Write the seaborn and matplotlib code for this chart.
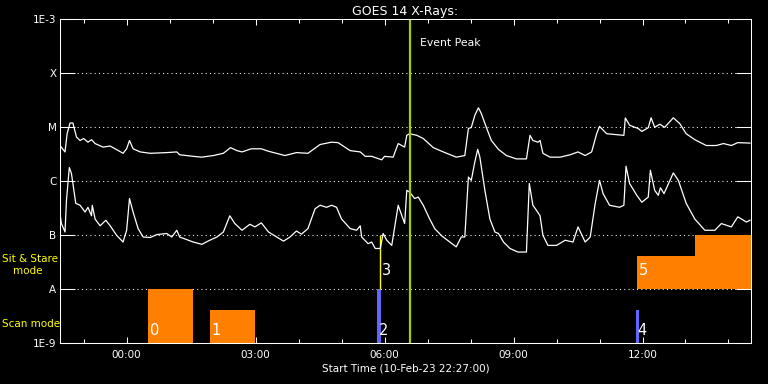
import pandas as pd
import matplotlib
matplotlib.use("Agg")
import matplotlib.pyplot as plt
import matplotlib.dates as mdates
import matplotlib.ticker as ticker
import matplotlib.transforms as mtransforms
import seaborn as sns

# --- GOES 14 long channel (upper curve), W/m^2 ---
long_times = ["22:27", "22:34", "22:37", "22:41", "22:45", "22:50", "22:55", "23:00", "23:06", "23:11",
              "23:16", "23:27", "23:37", "23:44", "23:55", "00:00", "00:04", "00:09", "00:19", "00:33",
              "00:56", "01:10", "01:14", "01:33", "01:45", "02:01", "02:15", "02:25", "02:34", "02:41",
              "02:54", "03:08", "03:18", "03:41", "03:57", "04:13", "04:30", "04:46", "04:55", "05:12",
              "05:26", "05:33", "05:42", "05:56", "06:00", "06:12", "06:19", "06:28", "06:31", "06:35",
              "06:45", "06:54", "07:08", "07:22", "07:40", "07:52", "07:57", "08:01", "08:06", "08:11",
              "08:15", "08:22", "08:29", "08:39", "08:50", "09:04", "09:18", "09:23", "09:27", "09:34",
              "09:37", "09:41", "09:51", "10:05", "10:19", "10:30", "10:40", "10:49", "10:56", "11:00",
              "11:10", "11:24", "11:34", "11:36", "11:42", "11:54", "11:59", "12:08", "12:12", "12:17",
              "12:24", "12:31", "12:43", "12:52", "13:01", "13:13", "13:29", "13:43", "13:53", "14:04",
              "14:13", "14:30"]
long_flux = [4.6e-6, 3.5e-6, 7.7e-6, 1.2e-5, 1.2e-5, 6.6e-6, 5.7e-6, 6.2e-6, 5.3e-6, 5.9e-6,
             5.0e-6, 4.3e-6, 4.5e-6, 4.0e-6, 3.3e-6, 4.0e-6, 5.7e-6, 4.0e-6, 3.5e-6, 3.3e-6,
             3.4e-6, 3.5e-6, 3.1e-6, 2.9e-6, 2.8e-6, 3.0e-6, 3.3e-6, 4.2e-6, 3.7e-6, 3.5e-6,
             4.0e-6, 4.0e-6, 3.6e-6, 3.0e-6, 3.4e-6, 3.3e-6, 4.8e-6, 5.3e-6, 5.2e-6, 3.7e-6,
             3.5e-6, 2.9e-6, 2.9e-6, 2.5e-6, 2.9e-6, 2.8e-6, 5.0e-6, 4.3e-6, 7.1e-6, 7.6e-6,
             7.1e-6, 6.2e-6, 4.2e-6, 3.5e-6, 2.8e-6, 3.0e-6, 9.5e-6, 9.9e-6, 1.67e-5, 2.3e-5,
             1.8e-5, 1.0e-5, 5.7e-6, 3.9e-6, 3.0e-6, 2.6e-6, 2.6e-6, 7.1e-6, 5.7e-6, 5.3e-6,
             5.7e-6, 3.3e-6, 2.8e-6, 2.8e-6, 3.1e-6, 3.5e-6, 3.0e-6, 3.5e-6, 7.6e-6, 1.04e-5,
             7.6e-6, 7.3e-6, 7.1e-6, 1.49e-5, 1.09e-5, 9.5e-6, 8.4e-6, 9.8e-6, 1.5e-5, 1.0e-5,
             1.14e-5, 1.0e-5, 1.5e-5, 1.17e-5, 7.6e-6, 5.9e-6, 4.6e-6, 4.6e-6, 5.0e-6, 4.6e-6,
             5.2e-6, 5.1e-6]

# --- GOES 14 short channel (lower curve), W/m^2 ---
short_times = ["22:27", "22:29", "22:34", "22:36", "22:40", "22:43", "22:49", "22:55", "23:02", "23:06",
               "23:11", "23:12", "23:16", "23:23", "23:31", "23:37", "23:46", "23:55", "00:00", "00:04",
               "00:09", "00:16", "00:23", "00:33", "00:42", "00:56", "01:03", "01:10", "01:14", "01:24",
               "01:33", "01:45", "01:56", "02:06", "02:15", "02:24", "02:31", "02:41", "02:52", "02:59",
               "03:08", "03:18", "03:39", "03:48", "03:57", "04:04", "04:13", "04:23", "04:30", "04:39",
               "04:46", "04:53", "05:00", "05:12", "05:21", "05:26", "05:28", "05:37", "05:42", "05:47",
               "05:54", "05:58", "06:03", "06:10", "06:19", "06:28", "06:31", "06:35", "06:42", "06:47",
               "06:54", "07:03", "07:10", "07:20", "07:31", "07:40", "07:47", "07:52", "07:57", "08:01",
               "08:06", "08:10", "08:13", "08:20", "08:27", "08:34", "08:39", "08:46", "08:55", "09:06",
               "09:18", "09:22", "09:27", "09:32", "09:37", "09:41", "09:48", "10:00", "10:12", "10:23",
               "10:30", "10:40", "10:47", "10:54", "11:00", "11:05", "11:14", "11:28", "11:34", "11:37",
               "11:42", "11:52", "11:59", "12:08", "12:11", "12:17", "12:22", "12:25", "12:30", "12:43",
               "12:50", "13:01", "13:13", "13:27", "13:41", "13:50", "14:04", "14:13", "14:25", "14:30"]
short_flux = [2.5e-7, 1.65e-7, 1.15e-7, 4.4e-7, 1.8e-6, 1.39e-6, 3.9e-7, 3.6e-7, 2.7e-7, 3.3e-7,
              2.3e-7, 3.6e-7, 2.0e-7, 1.5e-7, 1.9e-7, 1.5e-7, 1.0e-7, 7.5e-8, 1.24e-7, 4.8e-7,
              2.7e-7, 1.33e-7, 9.3e-8, 9.1e-8, 1.03e-7, 1.08e-7, 9.3e-8, 1.24e-7, 9.3e-8, 8.3e-8,
              7.5e-8, 6.8e-8, 8.1e-8, 9.3e-8, 1.15e-7, 2.3e-7, 1.65e-7, 1.24e-7, 1.6e-7, 1.43e-7,
              1.7e-7, 1.15e-7, 7.8e-8, 9.3e-8, 1.2e-7, 1.05e-7, 1.33e-7, 3.1e-7, 3.6e-7, 3.3e-7,
              3.6e-7, 3.3e-7, 2.0e-7, 1.33e-7, 1.24e-7, 1.5e-7, 9.3e-8, 7.0e-8, 7.5e-8, 5.7e-8,
              5.7e-8, 1.08e-7, 8.1e-8, 6.5e-8, 3.6e-7, 1.65e-7, 6.8e-7, 6.3e-7, 4.8e-7, 5.1e-7,
              3.6e-7, 2.0e-7, 1.33e-7, 9.7e-8, 7.5e-8, 6.1e-8, 9.3e-8, 9.3e-8, 1.2e-6, 1.04e-6,
              2.3e-6, 3.9e-6, 2.8e-6, 6.8e-7, 2.0e-7, 1.15e-7, 1.08e-7, 7.5e-8, 5.7e-8, 4.9e-8,
              4.9e-8, 9.1e-7, 3.6e-7, 2.9e-7, 2.3e-7, 1.0e-7, 6.5e-8, 6.5e-8, 8.1e-8, 7.5e-8,
              1.43e-7, 7.5e-8, 9.3e-8, 3.9e-7, 1.04e-6, 5.9e-7, 3.6e-7, 3.3e-7, 3.6e-7, 1.9e-6,
              9.1e-7, 5.5e-7, 4.1e-7, 5.1e-7, 1.6e-6, 6.8e-7, 5.5e-7, 7.6e-7, 5.9e-7, 1.43e-6,
              1.04e-6, 3.9e-7, 2.0e-7, 1.24e-7, 1.24e-7, 1.65e-7, 1.43e-7, 2.2e-7, 1.76e-7, 1.9e-7]

# --- observation blocks (scan / sit & stare) ---
obs_label = ["0", "1", "2", "3", "4", "5", ""]
obs_start = ["00:30", "01:56", "05:50", "05:54", "11:51", "11:53", "13:13"]
obs_end = ["01:32", "02:59", "05:55", "05:54", "11:55", "13:13", "14:33"]
obs_mode = ["scan", "scan", "scan", "stare", "scan", "stare", "stare"]
obs_fill = [1.0, 0.61, 1.0, 1.0, 0.61, 0.61, 1.0]

# axis stuff
start_time = "22:27"
end_time = "14:31"
peak_time = "06:35"
class_levels = [1e-9, 1e-8, 1e-7, 1e-6, 1e-5, 1e-4, 1e-3]
class_labels = ["1E-9", "A", "B", "C", "M", "X", "1E-3"]


def to_time(hhmm):
    # times before midnight belong to 10-Feb
    t = pd.Timestamp("2023-02-11 " + hhmm)
    if t.hour >= 20:
        t -= pd.Timedelta(days=1)
    return t


long_df = pd.DataFrame({"time": [to_time(t) for t in long_times], "flux": long_flux})
short_df = pd.DataFrame({"time": [to_time(t) for t in short_times], "flux": short_flux})

plt.rcParams["font.family"] = ["DejaVu Sans"]

fig = plt.figure(figsize=(7.68, 3.84), dpi=100, facecolor="black")
ax = fig.add_axes([60 / 768, (384 - 343.3) / 384, 690.7 / 768, 324 / 384])
ax.set_facecolor("black")

# dotted class lines
for lev in class_levels[1:-1]:
    ax.axhline(lev, color="white", lw=0.75, linestyle=(0, (1, 3.1)), zorder=1)

# observation blocks
band_low = {"scan": 1e-9, "stare": 1e-8}
thin_color = {"scan": "#6464ff", "stare": "#ffff00"}
for lab, s, e, mode, f in zip(obs_label, obs_start, obs_end, obs_mode, obs_fill):
    x0 = mdates.date2num(to_time(s))
    x1 = mdates.date2num(to_time(e))
    low = band_low[mode]
    top = low * 10 ** f
    dur = (x1 - x0) * 24 * 60
    if dur == 0:
        ax.vlines(x0, low, top, color=thin_color[mode], lw=1.0, zorder=2)
    else:
        col = thin_color[mode] if dur < 10 else "#ff8000"
        ax.bar(x0, top - low, width=x1 - x0, bottom=low, align="edge",
               color=col, lw=0, zorder=2, clip_on=False)
    if lab:
        ly = low * 10 ** (0.1 if mode == "scan" else 0.2)
        ax.annotate(lab, (x0, ly), xytext=(1, 0), textcoords="offset points",
                    color="white", fontsize=10.5, ha="left", va="bottom", zorder=4)

# GOES curves
sns.lineplot(data=long_df, x="time", y="flux", color="white", lw=0.9, ax=ax, zorder=3)
sns.lineplot(data=short_df, x="time", y="flux", color="white", lw=0.9, ax=ax, zorder=3)

# Event peak
ax.axvline(to_time(peak_time), color="#a0d000", lw=1.6, zorder=3)
ax.annotate("Event Peak", (to_time(peak_time), 3.6e-4), xytext=(7.5, 0), textcoords="offset points",
            color="white", fontsize=7.8, ha="left", va="center")

ax.set_yscale("log")
ax.set_ylim(1e-9, 1e-3)
ax.set_xlim(to_time(start_time), to_time(end_time))
ax.set_yticks(class_levels)
ax.set_yticklabels(class_labels)
ax.yaxis.set_minor_locator(ticker.NullLocator())

ax.xaxis.set_major_locator(mdates.HourLocator(byhour=[0, 3, 6, 9, 12]))
ax.xaxis.set_minor_locator(mdates.HourLocator())
ax.xaxis.set_major_formatter(mdates.DateFormatter("%H:%M"))

ax.tick_params(axis="y", which="major", direction="in", length=11, width=0.75,
               left=True, right=True, colors="white", labelsize=7.5, pad=2.5)
ax.tick_params(axis="x", which="major", direction="in", length=4.5, width=0.75,
               top=True, bottom=True, colors="white", labelsize=7.5, pad=5)
ax.tick_params(axis="x", which="minor", direction="in", length=3, width=0.75,
               top=True, bottom=True, colors="white")

for sp in ax.spines.values():
    sp.set_color("white")
    sp.set_linewidth(0.75)
    sp.set_zorder(5)

ax.set_xlabel("Start Time (10-Feb-23 22:27:00)", color="white", fontsize=7.5, labelpad=2)
ax.set_ylabel("")
ax.set_title("GOES 14 X-Rays:", color="white", fontsize=9, pad=3)

# mode labels on the left
trans = mtransforms.blended_transform_factory(ax.transAxes, ax.transData)
ax.text(-0.0844, 3.6e-8, "Sit & Stare", transform=trans, color="#ffff00", fontsize=7.5,
        ha="left", va="center")
ax.text(-0.0685, 2.15e-8, "mode", transform=trans, color="#ffff00", fontsize=7.5,
        ha="left", va="center")
ax.text(-0.0844, 2.25e-9, "Scan mode", transform=trans, color="#ffff00", fontsize=7.5,
        ha="left", va="center")

fig.savefig("out.png", dpi=100, facecolor="black")
